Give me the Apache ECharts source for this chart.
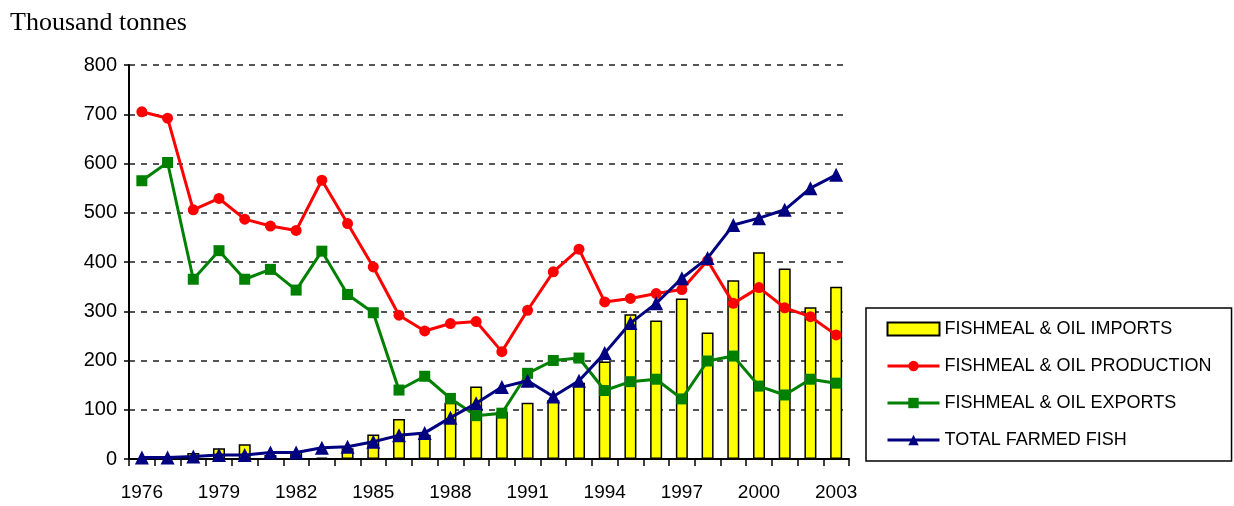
<!DOCTYPE html>
<html>
<head>
<meta charset="utf-8">
<script src="https://cdn.jsdelivr.net/npm/echarts@6/dist/echarts.min.js"></script>
<style>
  html, body { margin: 0; padding: 0; background: #fff; }
  #chart { width: 1234px; height: 506px; }
</style>
</head>
<body>
<div id="chart"></div>
<script>
// 数据
var years = ['1976','1977','1978','1979','1980','1981','1982','1983','1984','1985',
             '1986','1987','1988','1989','1990','1991','1992','1993','1994','1995',
             '1996','1997','1998','1999','2000','2001','2002','2003'];
var imports = [0, 0, 12, 22, 30, 8, 16, 3, 22, 50, 81, 49, 114, 147, 96, 114, 120, 155,
               198, 294, 281, 326, 257, 363, 420, 387, 308, 350];
var production = [705, 692, 506, 529, 487, 473, 464, 566, 478, 390, 292, 260, 275, 279,
                  218, 302, 380, 426, 319, 326, 336, 344, 403, 316, 348, 307, 289, 252];
var exportsFish = [565, 602, 365, 423, 365, 385, 343, 422, 334, 297, 140, 168, 123, 88,
                   93, 174, 200, 205, 139, 157, 162, 122, 199, 209, 148, 130, 162, 154];
var farmed = [3, 3, 5, 8, 8, 13, 13, 23, 25, 35, 48, 53, 84, 113, 146, 159, 127, 159,
              215, 276, 316, 367, 408, 475, 489, 506, 550, 577];

var myChart = echarts.init(document.getElementById('chart'));

var option = {
    animation: false,
    title: {
        text: 'Thousand tonnes',
        left: 5,
        top: 5,
        textStyle: {
            fontFamily: 'Liberation Serif',
            fontSize: 26,
            fontWeight: 'normal',
            color: '#000'
        }
    },
    legend: {
        orient: 'vertical',
        left: 866,
        top: 308,
        padding: [12, 20, 12, 20],
        borderColor: '#000',
        borderWidth: 1.5,
        itemWidth: 52,
        itemHeight: 13,
        itemGap: 19,
        lineStyle: { width: 3 },
        textStyle: {
            fontFamily: 'Liberation Sans',
            fontSize: 18,
            lineHeight: 18,
            color: '#000'
        },
        data: [
            { name: 'FISHMEAL & OIL IMPORTS', icon: 'rect' },
            'FISHMEAL & OIL PRODUCTION',
            'FISHMEAL & OIL EXPORTS',
            'TOTAL FARMED FISH'
        ]
    },
    grid: {
        left: 129,
        right: 385,
        top: 65,
        bottom: 47
    },
    xAxis: {
        type: 'category',
        data: years,
        boundaryGap: true,
        axisLine: { lineStyle: { color: '#000', width: 2 } },
        axisTick: {
            show: true,
            interval: 0,
            length: 7,
            lineStyle: { color: '#000', width: 1.5 }
        },
        axisLabel: {
            interval: 2,
            margin: 24,
            fontFamily: 'Liberation Sans',
            fontSize: 19,
            color: '#000'
        },
        splitLine: { show: false }
    },
    yAxis: {
        type: 'value',
        min: 0,
        max: 800,
        interval: 100,
        axisLine: { show: true, lineStyle: { color: '#000', width: 2 } },
        axisTick: { show: true, length: 5, lineStyle: { color: '#000', width: 1.5 } },
        axisLabel: {
            margin: 12,
            fontFamily: 'Liberation Sans',
            fontSize: 20,
            color: '#000'
        },
        splitLine: {
            show: true,
            lineStyle: { color: '#555', width: 2, type: [6, 6] }
        }
    },
    series: [
        {
            name: 'FISHMEAL & OIL IMPORTS',
            type: 'bar',
            barWidth: 12,
            itemStyle: { color: '#ffff00', borderColor: '#000', borderWidth: 1.5 },
            data: imports
        },
        {
            name: 'FISHMEAL & OIL PRODUCTION',
            type: 'line',
            symbol: 'circle',
            symbolSize: 11,
            lineStyle: { color: '#ff0000', width: 3 },
            itemStyle: { color: '#ff0000' },
            data: production
        },
        {
            name: 'FISHMEAL & OIL EXPORTS',
            type: 'line',
            symbol: 'rect',
            symbolSize: 11,
            lineStyle: { color: '#008000', width: 3 },
            itemStyle: { color: '#008000' },
            data: exportsFish
        },
        {
            name: 'TOTAL FARMED FISH',
            type: 'line',
            symbol: 'triangle',
            symbolSize: 14,
            lineStyle: { color: '#000080', width: 3 },
            itemStyle: { color: '#000080' },
            data: farmed
        }
    ]
};

myChart.setOption(option);
</script>
</body>
</html>
